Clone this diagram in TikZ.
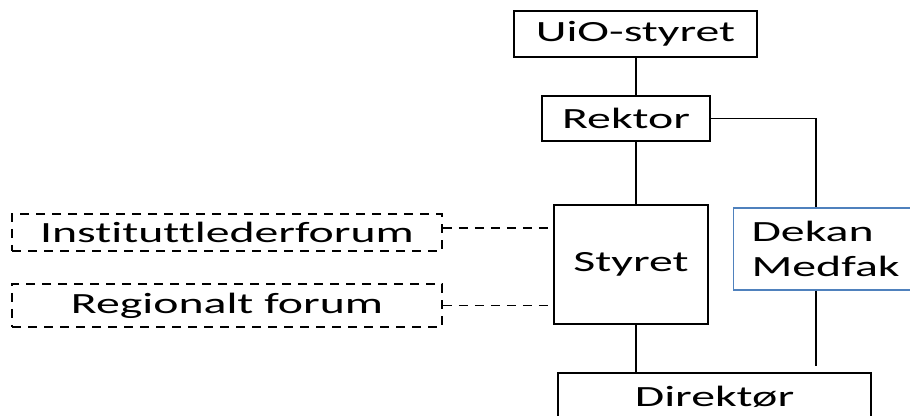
\documentclass[tikz,border=0pt]{standalone}
\usepackage{fontspec}
\setmainfont{Carlito}[FakeStretch=1.63, Ligatures=NoCommon]
\usepackage{xcolor}
\definecolor{officeblue}{RGB}{79,129,189}
\usepackage{tikz}
\usetikzlibrary{arrows,shapes,positioning}
\tikzset{
  every picture/.style = {
    line width = 0.8pt,
    x = 0.75pt,
    y = -0.75pt,
  }
  ,
  unit/.style = {
    rectangle,
    draw,
    font = \fontsize{22}{26}\selectfont,
    inner sep = 0pt
  }
  , % the forums
  forum-box/.style = {
    unit,
    line width = 1.2pt,
    dash pattern = on 7pt off 5pt
  }
  , % dean box, cut at the right edge
  dekan-box/.style = {
    unit,
    draw = officeblue,
    align = left,
    text width = 127.5pt,
    inner xsep = 13.5pt
  }
}

\begin{document}
\begin{tikzpicture}
    \useasboundingbox (0,0) rectangle (910,416);
    \clip (0,0) rectangle (910,416);
    \coordinate (axis) at (636,0);
    \coordinate (med-x) at (816,0);
    \coordinate (med-end) at (816,366);

    \node [unit, minimum width = 182.25pt, minimum height = 34.5pt] (uio) at (635.5,34) {UiO-styret};
    \node [unit, minimum width = 126pt, minimum height = 33.75pt] (rektor) at (626,118.5) {Rektor};
    \node [unit, minimum width = 115.5pt, minimum height = 89.25pt] (styret) at (631,264.5) {Styret};
    \node [dekan-box, minimum height = 61.5pt, anchor = west] (dekan) at (733,249) {Dekan\\Medfak};
    \node [unit, minimum width = 234.75pt, minimum height = 36pt] (direktor) at (714.5,397) {Direktør};
    \node [forum-box, minimum width = 322.5pt, minimum height = 27.75pt] (inst) at (227,232.5) {Instituttlederforum};
    \node [forum-box, minimum width = 322.5pt, minimum height = 32.25pt] (reg) at (227,305.5) {Regionalt forum};

    \draw (uio.south -| axis) -- (rektor.north -| axis)
        (rektor.south -| axis) -- (styret.north -| axis)
        (styret.south -| axis) -- (direktor.north -| axis)
        (rektor.east) -| (dekan.north -| med-x)
        (dekan.south -| med-x) -- (med-end);
    \draw [line width = 1.2pt, dash pattern = on 7pt off 5pt]
        ([yshift=3.4pt]inst.east) -- ([yshift=3.4pt]inst.east -| styret.west)
        (reg.east) -- (reg.east -| styret.west);
        %(direktor.north -| med-x) -- (med-end)
\end{tikzpicture}
\end{document}
